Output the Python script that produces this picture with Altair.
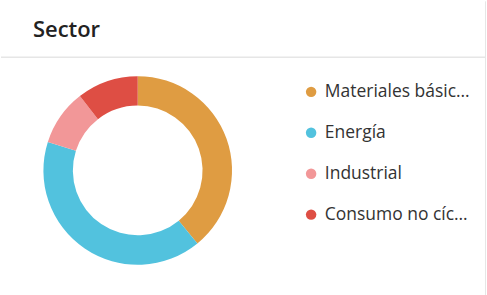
import altair as alt
import pandas as pd

sectors = ["Materiales básicos", "Energía", "Industrial", "Consumo no cíclico"]
weights = [39.1, 40.8, 9.6, 10.5]
colors = ["#df9c42", "#52c2de", "#f29798", "#de4e44"]

df = pd.DataFrame({"sector": sectors, "peso": weights, "idx": list(range(len(sectors)))})

arc = alt.Chart(df).mark_arc(innerRadius=65, outerRadius=94.5, stroke=None).encode(
    theta=alt.Theta("peso:Q", stack=True),
    order=alt.Order("idx:Q"),
    color=alt.Color(
        "sector:N",
        sort=sectors,
        scale=alt.Scale(domain=sectors, range=colors),
        legend=alt.Legend(
            title=None,
            orient="none",
            legendX=302,
            legendY=82,
            symbolType="circle",
            symbolSize=110,
            symbolStrokeWidth=0,
            labelFontSize=17.5,
            labelFont="Open Sans",
            labelColor="#333333",
            labelLimit=147,
            labelOffset=5,
            rowPadding=22,
        ),
    ),
    x=alt.value(137),
    y=alt.value(169.5),
)

title = alt.Chart(pd.DataFrame({"t": ["Sector"]})).mark_text(
    align="left", baseline="alphabetic", fontSize=22, fontWeight=600, font="Open Sans", color="#222222"
).encode(text="t:N", x=alt.value(32), y=alt.value(36))

sep = alt.Chart(pd.DataFrame({"a": [0]})).mark_rule(color="#e6e6e6", strokeWidth=1.5).encode(
    x=alt.value(0), x2=alt.value(485), y=alt.value(56)
)

border = alt.Chart(pd.DataFrame({"a": [0]})).mark_rule(color="#e6e6e6", strokeWidth=1).encode(
    x=alt.value(485.5), y=alt.value(0), y2=alt.value(295)
)

chart = alt.layer(sep, border, arc, title).properties(
    width=487, height=295, padding=0
).configure_view(stroke=None)

chart.save("out.html", embed_options={"renderer": "svg", "actions": False})
